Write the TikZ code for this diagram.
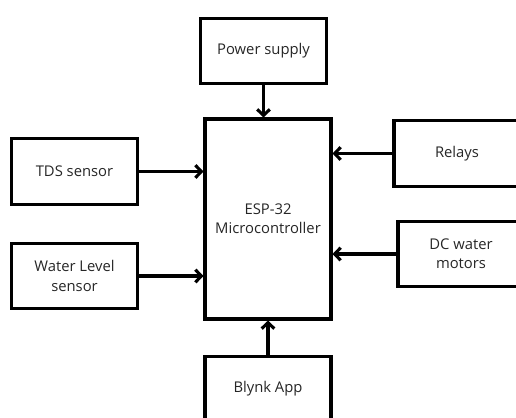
\documentclass[tikz,border=0pt]{standalone}
\usepackage{fontspec}
\setmainfont{Open Sans}
\usetikzlibrary{positioning, arrows.meta}

\begin{document}
\begin{tikzpicture}[x=0.75pt, y=-0.75pt,
  blk/.style={draw=black, line width=2.3pt, minimum width=94.5pt, minimum height=49pt,
    align=center, text=black!85, font=\fontsize{11.1}{14.5}\selectfont, inner sep=0pt},
  link/.style={line width=2.3pt, -{Straight Barb[length=4.5pt, width=9.5pt]}}]
\useasboundingbox (0,0) rectangle (516,417);
\clip (0,0) rectangle (516,417);
\node [blk] (psu) at (263.5,51) {Power supply};
\node [blk, minimum height=150pt] (esp) at (268,219) {ESP-32\\Microcontroller};
\node [blk] (tds) at (74.5,171.5) {TDS sensor};
\node [blk] (wls) at (74.5,276) {Water Level\\sensor};
\node [blk] (relays) at (457,153.5) {Relays};
\node [blk] (motors) at (461,254) {DC water\\motors};
\node [blk] (blynk) at (268,389) {Blynk App};
\draw [link] (psu.south) -- (psu.south |- esp.north);
\draw [link] (tds.east) -- (tds.east -| esp.west);
\draw [link] (wls.east) -- (wls.east -| esp.west);
\draw [link] (relays.west) -- (relays.west -| esp.east);
\draw [link] (motors.west) -- (motors.west -| esp.east);
\draw [link] (blynk.north) -- (esp.south);
\end{tikzpicture}
\end{document}
